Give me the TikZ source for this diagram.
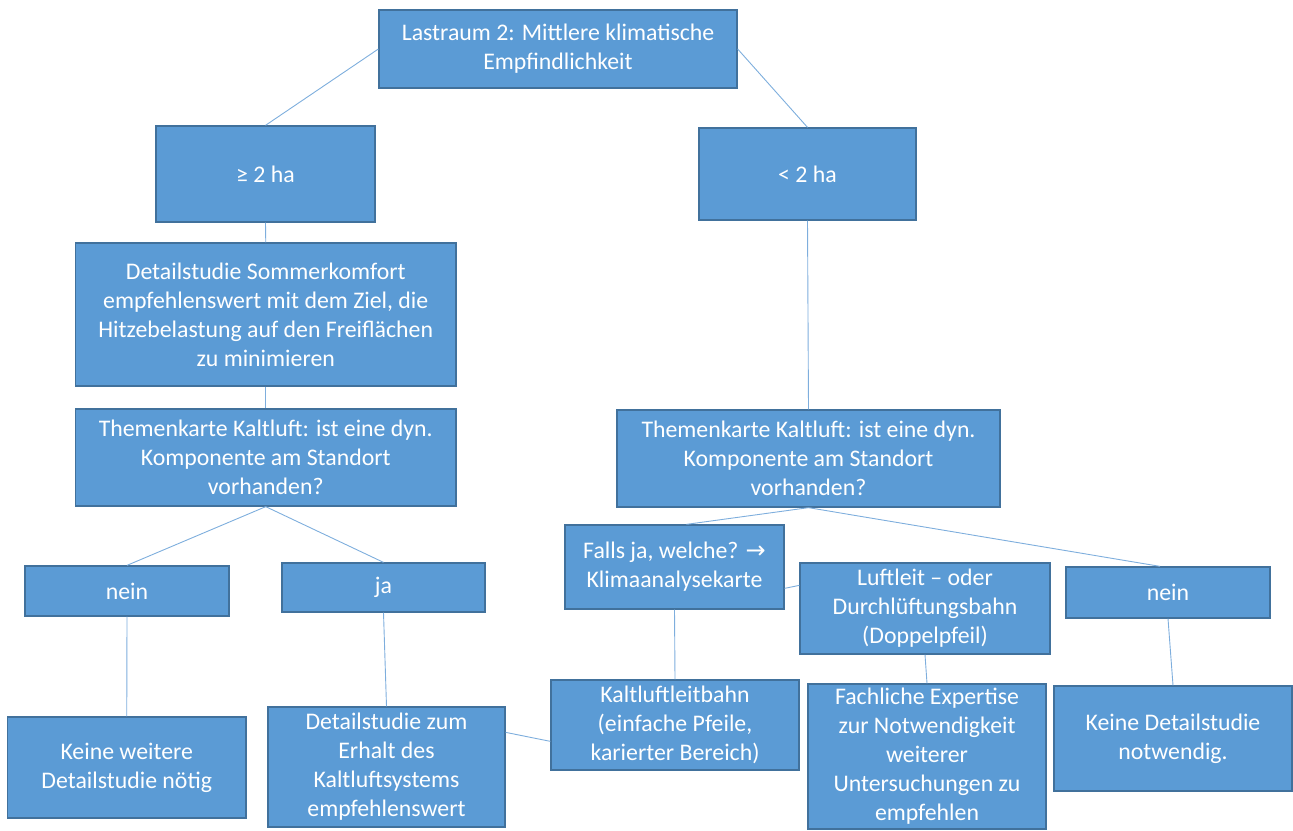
\documentclass[tikz,border=0pt]{standalone}
\usepackage{fontspec}
\setmainfont{Carlito}
\newfontfamily\arrowfont{DejaVu Sans}
\usetikzlibrary{calc}
\definecolor{boxfill}{HTML}{5B9BD5}
\definecolor{boxline}{HTML}{41719C}
\definecolor{linkcol}{HTML}{7EAEDD}
\begin{document}
\begin{tikzpicture}[x=1pt,y=-1pt,
  box/.style={draw=boxline, line width=1.3pt, fill=boxfill, text=white,
    align=center, inner sep=0pt, font=\fontsize{23.8}{29}\selectfont},
  link/.style={draw=linkcol, line width=0.9pt}]
\path[use as bounding box] (0,0) rectangle (1293,830);

% decision tree boxes
\node[box, minimum width=358, minimum height=78] (top) at (558,49)
  {Lastraum 2: Mittlere klimatische\\Empfindlichkeit};
\node[box, minimum width=219, minimum height=96] (ge) at (265.5,174) {≥ 2 ha};
\node[box, minimum width=217, minimum height=92] (lt) at (807.5,174) {< 2 ha};
\node[box, minimum width=380.5, minimum height=143] (som) at (265.75,314.5)
  {Detailstudie Sommerkomfort\\empfehlenswert mit dem Ziel, die\\Hitzebelastung auf den Freiflächen\\zu minimieren};
\node[box, minimum width=380.5, minimum height=97] (themL) at (265.75,457.5)
  {Themenkarte Kaltluft: ist eine dyn.\\Komponente am Standort\\vorhanden?};
\node[box, minimum width=204, minimum height=50] (neinL) at (127,591) {nein};
\node[box, minimum width=203, minimum height=49] (ja) at (383.5,587.5) {ja};
\node[box, minimum width=238.5, minimum height=101] (keineW) at (126.75,767.5)
  {Keine weitere\\Detailstudie nötig};
\node[box, minimum width=237, minimum height=120] (erhalt) at (386.5,767)
  {Detailstudie zum\\Erhalt des\\Kaltluftsystems\\empfehlenswert};
\node[box, minimum width=383, minimum height=97] (themR) at (808.5,458.5)
  {Themenkarte Kaltluft: ist eine dyn.\\Komponente am Standort\\vorhanden?};
\node[box, minimum width=219, minimum height=84] (falls) at (674.5,567)
  {Falls ja, welche? {\arrowfont\fontsize{24}{29}\selectfont →}\\Klimaanalysekarte};
\node[box, minimum width=250, minimum height=91] (luft) at (925,608.5)
  {Luftleit – oder\\Durchlüftungsbahn\\(Doppelpfeil)};
\node[box, minimum width=204, minimum height=51] (neinR) at (1168,592.5) {nein};
\node[box, minimum width=248, minimum height=90] (kltb) at (675,725)
  {Kaltluftleitbahn\\(einfache Pfeile,\\karierter Bereich)};
\node[box, minimum width=238, minimum height=145] (fach) at (927,756.5)
  {Fachliche Expertise\\zur Notwendigkeit\\weiterer\\Untersuchungen zu\\empfehlen};
\node[box, minimum width=238, minimum height=105] (keineD) at (1173,738.5)
  {Keine Detailstudie\\notwendig.};

% connectors
\draw[link] (top.west) -- (ge.north);
\draw[link] (top.east) -- (lt.north);
\draw[link] (ge.south) -- (som.north);
\draw[link] (som.south) -- (themL.north);
\draw[link] (themL.south) -- (neinL.north);
\draw[link] (themL.south) -- (ja.north);
\draw[link] (neinL.south) -- (keineW.north);
\draw[link] (ja.south) -- (erhalt.north);
\draw[link] ([yshift=-26pt]erhalt.north east) -- ([yshift=-62pt]kltb.north west);
\draw[link] (lt.south) -- (themR.north);
\draw[link] (themR.south) -- ([xshift=12pt]falls.north);
\draw[link] (themR.south) -- ([xshift=-8pt]neinR.north);
\draw[link] ([yshift=-64pt]falls.north east) -- ([yshift=-23pt]luft.north west);
\draw[link] (falls.south) -- (kltb.north);
\draw[link] (luft.south) -- (fach.north);
\draw[link] (neinR.south) -- (keineD.north);
\end{tikzpicture}
\end{document}
